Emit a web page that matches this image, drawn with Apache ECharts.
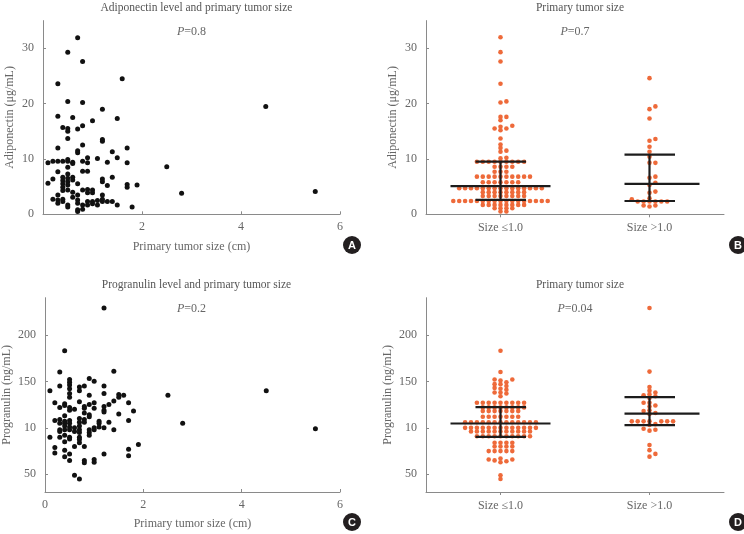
<!DOCTYPE html>
<html>
<head>
<meta charset="utf-8">
<script src="https://cdn.jsdelivr.net/npm/echarts@6/dist/echarts.min.js"></script>
<style>
  html, body { margin: 0; padding: 0; background: #fff; }
  #chart { width: 744px; height: 534px; }
</style>
</head>
<body>
<div id="chart"></div>
<script>
// panel A: [primary tumor size (cm), adiponectin (ug/mL)]
var adipoPoints = [
  [0.7,31.9],[0.5,29.3],[0.8,27.6],[0.3,23.6],[1.6,24.5],[4.5,19.5],[0.5,20.4],[0.8,20.2],
  [1.2,19.0],[0.3,17.7],[0.6,17.5],[1.0,16.9],[1.5,17.3],[0.4,15.7],[0.5,15.5],[0.5,15.0],
  [0.7,15.4],[0.8,16.0],[0.5,13.7],[1.2,13.5],[1.2,13.2],[0.8,12.5],[0.3,12.0],[1.7,12.0],
  [0.7,11.5],[0.7,11.1],[1.4,11.3],[1.5,10.2],[1.1,10.1],[0.9,10.2],
  [0.1,9.3],[0.2,9.6],[0.3,9.6],[0.4,9.6],[0.5,9.6],[0.6,9.4],[0.8,9.6],[0.9,9.3],[1.3,9.4],[1.7,9.3],
  [0.5,9.9],[0.6,9.2],[2.5,8.6],[0.5,8.5],[0.3,7.7],[0.8,7.8],[0.9,7.8],[1.4,6.7],[0.2,6.4],
  [0.4,6.7],[0.4,6.1],[0.4,5.5],[0.4,4.9],[0.4,4.3],
  [0.5,7.3],[0.5,6.5],[0.5,5.9],[0.5,5.3],[0.5,4.4],
  [0.6,6.7],[0.6,6.2],[0.7,5.5],[0.1,5.6],[1.2,6.4],[1.2,5.9],[1.3,5.2],[1.7,5.4],[1.7,4.9],
  [1.9,5.3],[2.8,3.8],[5.5,4.1],[0.6,4.0],[0.8,4.4],[0.9,4.5],[0.9,3.9],[1.0,4.4],[1.0,3.9],[0.7,3.5],
  [0.2,2.7],[0.3,3.5],[0.3,2.6],[0.3,2.0],[0.4,2.7],[0.4,2.3],[0.5,1.7],[0.5,1.3],[0.6,3.1],
  [0.7,2.6],[0.7,2.0],[0.7,0.8],[0.7,0.5],[0.8,1.7],[0.8,0.9],[0.9,2.3],[0.9,1.7],[1.0,2.3],
  [1.0,1.9],[1.1,2.5],[1.1,1.7],[1.2,3.5],[1.2,2.7],[1.2,2.3],[1.3,2.3],[1.4,2.3],[1.5,1.7],[1.8,1.3]
];

// panel C: [primary tumor size (cm), progranulin (ng/mL)]
var progPoints = [
  [1.2,229],[0.4,183],[1.4,161],[0.3,160],[0.5,152],[0.5,149],[0.9,153],[1.0,150],[0.1,140],
  [0.3,145],[0.5,146],[0.5,142],[0.7,144],[0.7,140],[0.8,145],[1.2,145],[1.2,137],[4.5,140],
  [2.5,135],[1.5,136],[1.5,133],[1.6,135],[0.9,135],[0.5,137],[0.5,133],[1.4,129],[0.7,128],
  [0.2,127],[1.7,127],[0.4,126],[0.4,124],[0.3,122],[0.5,122],[0.5,119],[0.6,120],[0.8,123],
  [0.8,121],[0.9,125],[1.0,127],[1.0,121],[1.2,123],[1.2,119],[1.2,117],[1.3,125],[1.8,118],
  [1.5,115],[0.4,113],[0.8,116],[0.9,114],[0.9,112],[0.7,110],[0.2,108],[0.3,109],[0.3,105],
  [0.4,107],[0.4,105],[0.5,108],[0.5,105],[0.7,106],[0.8,109],[0.8,106],[1.1,107],[1.1,105],
  [1.3,106],[1.7,108],[2.8,105],[0.3,98],[0.3,96],[0.4,102],[0.4,98],[0.5,101],[0.5,98],
  [0.6,100],[0.6,96],[0.7,102],[0.7,98],[0.7,95],[0.9,98],[0.9,95],[1.0,100],[1.0,98],[1.1,101],
  [1.2,100],[1.4,98],[5.5,99],[0.1,90],[0.3,90],[0.4,92],[0.5,90],[0.5,88],[0.7,90],[0.7,87.5],
  [0.7,84],[0.9,92],[0.4,85],[0.6,80],[0.8,80],[1.9,82],[0.2,79],[0.2,73],[0.4,76],[0.5,72],
  [1.2,72],[1.7,77],[1.7,70],[0.4,69],[0.5,65],[0.8,65],[0.8,62.5],[1.0,66],[1.0,63],[0.6,49],[0.7,45]
];

// panel B: adiponectin by size group
var adipoSmall = [
  32.0, 29.3, 27.6, 23.6, 20.4, 20.2, 17.6, 17.6, 17.0,
  16.0, 15.8, 15.5, 15.5, 15.2, 13.7, 12.6, 12.0, 11.5, 11.3, 10.2, 10.1,
  9.5, 9.5, 9.5, 9.5, 9.5, 9.5, 9.5, 9.5, 9.5,
  8.6, 8.6, 8.6, 8.6, 7.7, 7.7, 7.7,
  6.8, 6.8, 6.8, 6.8, 6.8, 6.8, 6.8, 6.8, 6.8, 6.8,
  5.8, 5.8, 5.8, 5.8, 5.8, 5.8, 5.8,
  4.7, 4.7, 4.7, 4.7, 4.7, 4.7, 4.7, 4.7, 4.7, 4.7, 4.7, 4.7, 4.7, 4.7, 4.7,
  4.0, 4.0, 4.0, 4.0, 4.0, 4.0, 4.0, 4.0,
  3.3, 3.3, 3.3, 3.3, 3.3, 3.3, 3.3, 3.3,
  2.4, 2.4, 2.4, 2.4, 2.4, 2.4, 2.4, 2.4, 2.4, 2.4, 2.4, 2.4, 2.4, 2.4, 2.4, 2.4, 2.4,
  1.7, 1.7, 1.7, 1.7, 1.7, 1.7, 1.7, 1.7,
  1.1, 1.1, 1.1, 1.1, 0.5, 0.5
];
var adipoLarge = [
  24.6, 19.5, 19.0, 17.3, 13.6, 13.3, 12.2, 11.3, 10.4, 9.3, 9.3, 6.8, 6.6, 5.7, 5.3,
  4.1, 3.9, 2.9, 2.7, 2.3, 2.3, 2.3, 2.3, 2.3, 2.3, 1.6, 1.6, 1.4
];

// panel D: progranulin by size group
var progSmall = [
  183, 160, 152, 152, 151, 147, 147, 145, 149, 142, 141, 143, 138, 138, 137, 134,
  127, 127, 127, 127, 127, 127, 127, 127, 127,
  122, 122, 122, 122, 122, 122, 122, 122,
  118, 118, 118, 118, 118, 118, 118,
  112, 112, 112, 112, 112, 112, 112,
  106, 106, 106, 106, 106, 106, 106, 106, 106, 106, 106, 106, 106,
  100, 100, 100, 100, 100, 100, 100, 100, 100, 100, 100, 100, 100,
  96, 96, 96, 96, 96, 96, 96, 96, 96, 96, 96,
  91, 91, 91, 91, 91, 91, 91, 91, 91, 91,
  84, 84, 84, 84, 80, 80, 80, 80, 75, 75, 75, 75, 75,
  67, 66, 64, 63, 65, 66, 49, 45
];
var progLarge = [
  229, 160.5, 144, 140, 138, 136, 135, 134, 132, 127, 127, 124, 123, 119, 118, 116, 115,
  107, 107, 107, 107, 107, 107, 107, 104, 103, 99, 98, 97, 81.6, 76, 72, 69
];

var groupLabels = ['Size \u22641.0', 'Size >1.0'];

var adipoMedian = [5.1, 5.5];
var adipoQ1 = [2.6, 2.4];
var adipoQ3 = [9.5, 10.8];
var progMedian = [104.7, 115.4];
var progQ1 = [90.3, 102.9];
var progQ3 = [122.2, 133.0];

var adipoTicks = [0, 10, 20, 30];
var progTicks = [50, 100, 150, 200];
var progTickLabels = ['50', '10', '150', '200'];
var sizeTicks = [0, 2, 4, 6];

var titles = ['Adiponectin level and primary tumor size', 'Primary tumor size',
              'Progranulin level and primary tumor size', 'Primary tumor size'];
var pValues = ['0.8', '0.7', '0.2', '0.04'];
var panelLetters = ['A', 'B', 'C', 'D'];

// layout
var boxes = [
  {left: 43, top: 20.6, width: 297, height: 193.7},
  {left: 426, top: 20.6, width: 298, height: 193.7},
  {left: 43, top: 297.7, width: 297, height: 194.3},
  {left: 426, top: 297.7, width: 298, height: 194.3}
];
var adipoRange = [0, 35];
var progRange = [31, 240];

var FONT = '"Liberation Serif", "DejaVu Serif", serif';
var TEXT = '#666';
var AXIS = '#8a8a8a';
var ORANGE = '#ee6a3a';

// scatter-dot layout: keep y exact, put each dot in the nearest free column slot
function swarm(vals, center, box, yr, step, dyMin) {
  var pxY = box.height / (yr[1] - yr[0]);
  var pxX = box.width / 2;
  var sorted = vals.slice().sort(function (a, b) { return a - b; });
  var placed = [];
  return sorted.map(function (v) {
    var y = (v - yr[0]) * pxY;
    var off = 0;
    for (var k = 0; k < 80; k++) {
      off = (k % 2 === 1 ? 1 : -1) * Math.ceil(k / 2) * step;
      var free = placed.every(function (p) {
        return Math.abs(p[0] - off) > step * 0.6 || Math.abs(p[1] - y) > dyMin;
      });
      if (free) break;
    }
    placed.push([off, y]);
    return [center + off / pxX, v];
  });
}

var medianExt = [[50, 50], [25, 50]];
function renderBars(params, api) {
  var i = params.dataIndex;
  var m = api.coord([api.value(0), api.value(1)]);
  var lo = api.coord([api.value(0), api.value(2)]);
  var hi = api.coord([api.value(0), api.value(3)]);
  var st = {stroke: '#1c1c1c', lineWidth: 2.2};
  var x = m[0];
  return {
    type: 'group',
    children: [
      {type: 'line', shape: {x1: x, y1: lo[1], x2: x, y2: hi[1]}, style: st},
      {type: 'line', shape: {x1: x - 25, y1: lo[1], x2: x + 25.5, y2: lo[1]}, style: st},
      {type: 'line', shape: {x1: x - 25, y1: hi[1], x2: x + 25.5, y2: hi[1]}, style: st},
      {type: 'line', shape: {x1: x - medianExt[i][0], y1: m[1], x2: x + medianExt[i][1], y2: m[1]}, style: st}
    ]
  };
}

function baseAxis(extra) {
  var a = {
    axisLine: {lineStyle: {color: AXIS, width: 1}},
    axisTick: {inside: true, length: 3, lineStyle: {color: AXIS}},
    axisLabel: {color: TEXT, fontFamily: FONT, fontSize: 12},
    splitLine: {show: false},
    nameTextStyle: {color: TEXT, fontFamily: FONT, fontSize: 12},
    nameLocation: 'middle'
  };
  for (var k in extra) {
    if (typeof extra[k] === 'object' && a[k] && !Array.isArray(extra[k])) {
      a[k] = Object.assign({}, a[k], extra[k]);
    } else {
      a[k] = extra[k];
    }
  }
  return a;
}

function groupLabel(v) { return groupLabels[v < 1 ? 0 : 1]; }

var xAxes = [
  baseAxis({gridIndex: 0, type: 'value', min: 0, max: 6, name: 'Primary tumor size (cm)', nameGap: 27,
    axisTick: {customValues: [2, 4, 6]}, axisLabel: {customValues: [2, 4, 6], margin: 7}}),
  baseAxis({gridIndex: 1, type: 'value', min: 0, max: 2,
    axisTick: {customValues: [0.5, 1.5], inside: false, length: 3},
    axisLabel: {customValues: [0.5, 1.5], margin: 8, formatter: groupLabel}}),
  baseAxis({gridIndex: 2, type: 'value', min: 0, max: 6, name: 'Primary tumor size (cm)', nameGap: 26,
    axisTick: {customValues: sizeTicks}, axisLabel: {customValues: sizeTicks, margin: 7}}),
  baseAxis({gridIndex: 3, type: 'value', min: 0, max: 2,
    axisTick: {customValues: [0.5, 1.5], inside: false, length: 3},
    axisLabel: {customValues: [0.5, 1.5], margin: 8, formatter: groupLabel}})
];

function progLabel(v) { return progTickLabels[progTicks.indexOf(v)]; }

var yAxes = [
  baseAxis({gridIndex: 0, type: 'value', min: adipoRange[0], max: adipoRange[1], name: 'Adiponectin (\u03bcg/mL)', nameGap: 27,
    axisTick: {customValues: adipoTicks}, axisLabel: {customValues: adipoTicks, margin: 9}}),
  baseAxis({gridIndex: 1, type: 'value', min: adipoRange[0], max: adipoRange[1], name: 'Adiponectin (\u03bcg/mL)', nameGap: 27,
    axisTick: {customValues: adipoTicks}, axisLabel: {customValues: adipoTicks, margin: 9}}),
  baseAxis({gridIndex: 2, type: 'value', min: progRange[0], max: progRange[1], name: 'Progranulin (ng/mL)', nameGap: 32,
    axisTick: {customValues: progTicks}, axisLabel: {customValues: progTicks, margin: 9, formatter: progLabel}}),
  baseAxis({gridIndex: 3, type: 'value', min: progRange[0], max: progRange[1], name: 'Progranulin (ng/mL)', nameGap: 32,
    axisTick: {customValues: progTicks}, axisLabel: {customValues: progTicks, margin: 9, formatter: progLabel}})
];

var STEP = 5.9, DY = 3.0;
var swarmB = swarm(adipoSmall, 0.5, boxes[1], adipoRange, STEP, DY)
  .concat(swarm(adipoLarge, 1.5, boxes[1], adipoRange, STEP, DY));
var swarmD = swarm(progSmall, 0.5, boxes[3], progRange, STEP, DY)
  .concat(swarm(progLarge, 1.5, boxes[3], progRange, STEP, DY));

function statRows(med, q1, q3) {
  return [0, 1].map(function (i) { return [i + 0.5, med[i], q1[i], q3[i]]; });
}

var series = [
  {type: 'scatter', xAxisIndex: 0, yAxisIndex: 0, data: adipoPoints, symbolSize: 5, silent: true, itemStyle: {color: '#111', opacity: 1}},
  {type: 'scatter', xAxisIndex: 1, yAxisIndex: 1, data: swarmB, symbolSize: 4.6, silent: true, itemStyle: {color: ORANGE, opacity: 1}},
  {type: 'custom', xAxisIndex: 1, yAxisIndex: 1, data: statRows(adipoMedian, adipoQ1, adipoQ3), renderItem: renderBars, z: 5, silent: true},
  {type: 'scatter', xAxisIndex: 2, yAxisIndex: 2, data: progPoints, symbolSize: 5, silent: true, itemStyle: {color: '#111', opacity: 1}},
  {type: 'scatter', xAxisIndex: 3, yAxisIndex: 3, data: swarmD, symbolSize: 4.6, silent: true, itemStyle: {color: ORANGE, opacity: 1}},
  {type: 'custom', xAxisIndex: 3, yAxisIndex: 3, data: statRows(progMedian, progQ1, progQ3), renderItem: renderBars, z: 5, silent: true}
];

var titleOpts = titles.map(function (t, i) {
  var b = boxes[i];
  return {
    text: t, left: b.left + b.width / 2, top: i < 2 ? -3 : 274, textAlign: 'center',
    textStyle: {color: '#555', fontFamily: FONT, fontSize: 11.5, fontWeight: 'normal'}
  };
});

var graphics = [];
var letterPos = [[352, 245], [738, 245], [352, 522], [738, 522]];
boxes.forEach(function (b, i) {
  graphics.push({
    type: 'text', x: b.left + b.width / 2, y: i < 2 ? 32 : 309,
    style: {
      text: '{i|P}=' + pValues[i], align: 'center', verticalAlign: 'middle',
      fill: TEXT, font: '12px ' + FONT,
      rich: {i: {fontStyle: 'italic', fontFamily: FONT, fontSize: 12, fill: TEXT}}
    }
  });
  graphics.push({
    type: 'circle', shape: {cx: letterPos[i][0], cy: letterPos[i][1], r: 9},
    style: {fill: '#231f20'}
  });
  graphics.push({
    type: 'text', x: letterPos[i][0], y: letterPos[i][1] + 0.5,
    style: {text: panelLetters[i], align: 'center', verticalAlign: 'middle', fill: '#fff',
      font: 'bold 11px "Liberation Sans", Arial, sans-serif'}
  });
});

var chart = echarts.init(document.getElementById('chart'));
chart.setOption({
  animation: false,
  backgroundColor: '#fff',
  title: titleOpts,
  grid: boxes,
  xAxis: xAxes,
  yAxis: yAxes,
  series: series,
  graphic: graphics
});
</script>
</body>
</html>
